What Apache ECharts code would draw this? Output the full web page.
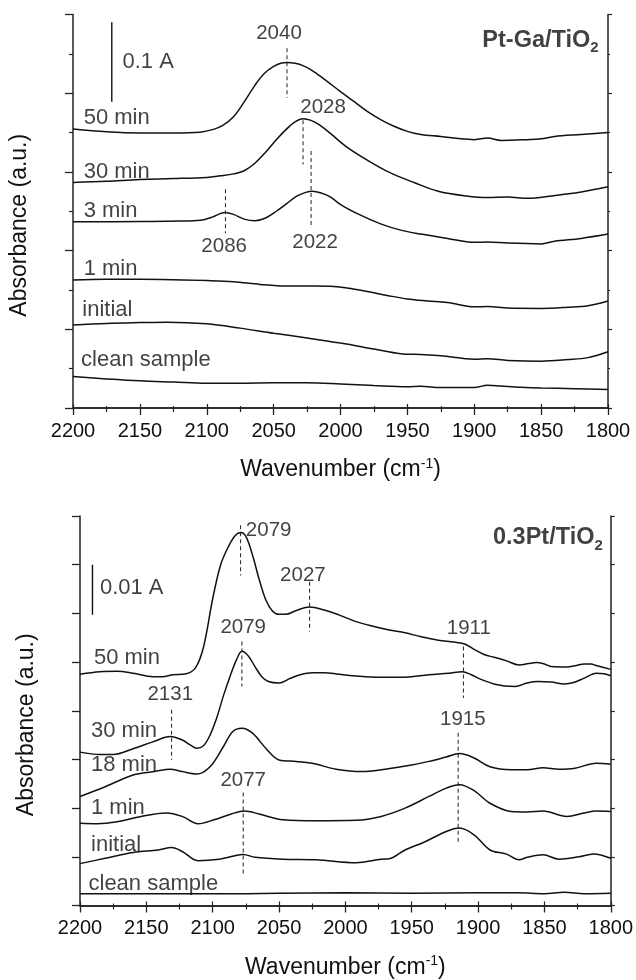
<!DOCTYPE html>
<html><head><meta charset="utf-8">
<script src="https://cdn.jsdelivr.net/npm/echarts@6/dist/echarts.min.js"></script>
<style>html,body{margin:0;padding:0;background:#fff}#c{width:636px;height:980px}</style>
</head><body><div id="c"></div>
<script>
// ---------- Top panel: Pt-Ga/TiO2 (y in offset units, 2 units = 0.1 A) ----------
const xTicks = [2200, 2150, 2100, 2050, 2000, 1950, 1900, 1850, 1800];

const top50_wn = [2200,2175,2150,2125,2105,2095,2088,2080,2072,2064,2057,2050,2044,2040,2034,2028,2020,2010,2000,1990,1980,1970,1960,1950,1940,1925,1910,1900,1890,1880,1860,1850,1840,1820,1800];
const top50_y  = [7.09,7.02,6.99,6.99,7.01,7.08,7.18,7.40,7.78,8.20,8.50,8.68,8.77,8.78,8.76,8.70,8.55,8.30,8.04,7.79,7.54,7.33,7.16,7.03,6.95,6.90,6.84,6.82,6.86,6.80,6.82,6.84,6.90,6.95,7.00];

const top30_wn = [2200,2175,2150,2125,2100,2090,2080,2072,2064,2056,2048,2040,2034,2028,2022,2016,2008,1996,1981,1963,1945,1927,1906,1890,1875,1860,1842,1820,1800];
const top30_y  = [5.73,5.76,5.81,5.83,5.86,5.90,5.95,6.03,6.22,6.50,6.82,7.10,7.27,7.35,7.31,7.20,6.99,6.65,6.32,5.98,5.73,5.51,5.39,5.35,5.36,5.33,5.39,5.49,5.62];

const top3_wn = [2200,2150,2120,2105,2096,2090,2086,2080,2072,2064,2056,2048,2040,2033,2026,2021,2015,2008,1999,1985,1970,1955,1940,1920,1900,1890,1875,1850,1840,1820,1800];
const top3_y  = [4.73,4.74,4.75,4.77,4.85,4.94,4.97,4.92,4.80,4.76,4.83,5.00,5.20,5.38,5.48,5.51,5.47,5.37,5.15,4.90,4.68,4.52,4.42,4.31,4.21,4.22,4.19,4.17,4.24,4.31,4.42];

const top1_wn = [2200,2175,2150,2125,2100,2080,2060,2040,2020,2005,1995,1980,1965,1950,1935,1920,1900,1890,1875,1850,1830,1815,1800];
const top1_y  = [3.25,3.27,3.27,3.26,3.24,3.21,3.14,3.10,3.10,3.09,3.05,2.96,2.86,2.77,2.72,2.68,2.57,2.58,2.54,2.53,2.56,2.60,2.72];

const topInit_wn = [2200,2175,2150,2130,2100,2075,2050,2025,2000,1975,1955,1940,1925,1900,1890,1875,1850,1830,1815,1800];
const topInit_y  = [2.11,2.15,2.17,2.18,2.14,2.03,1.90,1.78,1.65,1.50,1.38,1.36,1.33,1.24,1.25,1.21,1.19,1.23,1.28,1.43];

const topClean_wn = [2200,2175,2150,2125,2100,2075,2050,2025,2000,1975,1950,1940,1925,1900,1890,1880,1865,1850,1825,1800];
const topClean_y  = [0.80,0.74,0.69,0.66,0.63,0.63,0.64,0.64,0.61,0.57,0.54,0.55,0.52,0.52,0.58,0.56,0.53,0.51,0.49,0.47];

// peak marker dashes: [wavenumber, y start, y end]
const topPeaks = [[2040, 9.14, 7.88], [2028, 7.31, 6.19], [2022, 6.53, 4.60], [2086, 5.56, 4.44]];
// peak labels: [wavenumber, y, text]
const topPeakLabels = [[2046, 9.53, '2040'], [2013, 7.65, '2028'], [2087, 4.10, '2086'], [2019, 4.20, '2022']];
// curve labels (left-aligned): [wavenumber, y, text]
const topCurveLabels = [
  [2163, 8.79, '0.1 A'],
  [2192, 7.37, '50 min'], [2192, 6.00, '30 min'], [2192, 5.01, '3 min'],
  [2192, 3.53, '1 min'], [2193, 2.49, 'initial'], [2194, 1.22, 'clean sample']
];
const topTitle = [1807, 9.35, 'Pt-Ga/TiO', '2'];
const topScaleBar = [2171, 9.80, 7.78];

// ---------- Bottom panel: 0.3Pt/TiO2 (y in offset units, 1 unit = 0.01 A) ----------
const bot50_wn = [2200,2185,2172,2160,2145,2138,2130,2120,2113,2107,2100,2094,2088,2083,2079,2075,2070,2065,2060,2055,2050,2045,2037,2027,2016,2005,1992,1980,1967,1955,1943,1930,1918,1910,1903,1895,1888,1879,1869,1862,1856,1850,1845,1833,1826,1820,1815,1811,1800];
const bot50_y  = [4.75,4.80,4.81,4.77,4.70,4.70,4.74,4.76,4.88,5.30,6.30,7.00,7.38,7.60,7.66,7.58,7.20,6.70,6.28,6.05,5.98,5.98,6.06,6.13,6.07,5.97,5.83,5.74,5.66,5.60,5.52,5.45,5.41,5.37,5.26,5.15,5.10,5.03,4.94,4.97,4.99,4.96,4.91,4.90,4.93,4.96,4.96,4.93,4.85];

const bot30_wn = [2200,2185,2175,2160,2145,2132,2123,2117,2112,2107,2102,2097,2092,2087,2082,2078,2073,2068,2063,2058,2050,2042,2034,2025,2016,2005,1990,1975,1955,1937,1922,1912,1905,1900,1888,1880,1872,1863,1855,1845,1835,1828,1820,1811,1805,1800];
const bot30_y  = [3.15,3.10,3.10,3.22,3.36,3.47,3.40,3.30,3.23,3.28,3.50,3.85,4.30,4.70,5.05,5.22,5.12,4.90,4.70,4.60,4.57,4.66,4.74,4.78,4.78,4.75,4.71,4.69,4.69,4.74,4.77,4.80,4.74,4.67,4.55,4.51,4.50,4.57,4.60,4.59,4.55,4.58,4.67,4.77,4.76,4.72];

const bot18_wn = [2200,2181,2160,2144,2132,2123,2112,2102,2092,2085,2078,2070,2059,2050,2037,2025,2007,1988,1970,1949,1937,1924,1914,1903,1891,1875,1863,1851,1839,1827,1811,1800];
const bot18_y  = [2.24,2.44,2.68,2.75,2.80,2.75,2.70,2.85,3.26,3.57,3.64,3.54,3.20,2.99,2.96,2.92,2.80,2.75,2.80,2.89,2.96,3.05,3.12,3.03,2.85,2.79,2.79,2.83,2.80,2.82,2.92,2.90];

const bot1_wn = [2200,2187,2172,2154,2135,2123,2111,2099,2086,2076,2065,2047,2022,1992,1973,1955,1937,1924,1914,1903,1891,1875,1863,1851,1833,1820,1811,1800];
const bot1_y  = [1.69,1.68,1.72,1.83,1.90,1.83,1.68,1.76,1.88,1.94,1.88,1.76,1.74,1.75,1.83,2.00,2.24,2.41,2.48,2.36,2.10,1.93,1.92,1.94,1.83,1.90,1.94,1.93];

const botInit_wn = [2200,2181,2160,2141,2131,2123,2111,2095,2085,2077,2068,2047,2022,1992,1973,1967,1955,1940,1924,1914,1903,1891,1879,1869,1863,1851,1839,1824,1813,1800];
const botInit_y  = [0.86,0.97,1.09,1.14,1.19,1.11,0.92,0.95,1.01,1.05,0.99,0.95,0.94,0.88,0.95,0.96,1.14,1.31,1.52,1.59,1.45,1.14,1.06,0.94,0.99,1.04,0.95,1.00,1.06,0.97];

const botClean_wn = [2200,2150,2100,2050,2000,1950,1900,1870,1850,1835,1820,1800];
const botClean_y  = [0.24,0.24,0.24,0.25,0.26,0.25,0.26,0.26,0.24,0.27,0.24,0.25];

const botPeaks = [[2079, 7.81, 6.78], [2027, 6.65, 5.63], [2078, 5.42, 4.50], [1911, 5.32, 4.26], [2131, 4.02, 2.99], [1915, 3.55, 1.29], [2077, 2.32, 0.60]];
const botPeakLabelsLeft = [[2075, 7.71, '2079']];
const botPeakLabels = [
  [2032, 6.79, '2027'], [2077, 5.72, '2079'], [1907, 5.70, '1911'],
  [2132, 4.33, '2131'], [1911.5, 3.83, '1915'], [2077, 2.58, '2077']
];
const botCurveLabels = [
  [2185, 6.52, '0.01 A'],
  [2189.5, 5.09, '50 min'], [2191.7, 3.59, '30 min'], [2191.7, 2.89, '18 min'],
  [2191.7, 2.00, '1 min'], [2191.7, 1.25, 'initial'], [2193.6, 0.45, 'clean sample']
];
const botTitle = [1806, 7.55, '0.3Pt/TiO', '2'];
const botScaleBar = [2190.6, 7.00, 5.97];

// ---------- build ----------
const FONT = '"Liberation Sans", Arial, sans-serif';
const INK = '#111111';
const zip = (a, b) => a.map((v, i) => [v, b[i]]);

function curve(wn, ys, idx) {
  return { type: 'line', xAxisIndex: idx * 2, yAxisIndex: idx * 2, data: zip(wn, ys),
    smooth: 0.35, symbol: 'none', silent: true, z: 3,
    lineStyle: { color: INK, width: 1.5 } };
}
function vline(x, y1, y2, idx, dashed) {
  return { type: 'line', xAxisIndex: idx * 2, yAxisIndex: idx * 2, data: [[x, y1], [x, y2]],
    symbol: 'none', silent: true, z: 2,
    lineStyle: { color: dashed ? '#333' : INK, width: dashed ? 1.1 : 1.4, type: dashed ? [4, 3] : 'solid' } };
}
function texts(list, idx, align, size) {
  return { type: 'scatter', xAxisIndex: idx * 2, yAxisIndex: idx * 2, symbolSize: 0.1, silent: true, z: 5,
    itemStyle: { color: 'rgba(0,0,0,0)' },
    data: list.map(t => ({ value: [t[0], t[1]],
      label: { show: true, position: 'inside', formatter: t[2], align, verticalAlign: 'middle',
        fontSize: size, color: INK, fontFamily: FONT, textBorderWidth: 0 } })) };
}
function title(t, idx) {
  return { type: 'scatter', xAxisIndex: idx * 2, yAxisIndex: idx * 2, symbolSize: 0.1, silent: true, z: 5,
    itemStyle: { color: 'rgba(0,0,0,0)' },
    data: [{ value: [t[0], t[1]], label: { show: true, position: 'inside', align: 'right', verticalAlign: 'middle',
      formatter: '{b|' + t[2] + '}{s|' + t[3] + '}',
      rich: { b: { fontSize: 23.5, fontWeight: 'bold', color: INK, fontFamily: FONT, lineHeight: 30, textBorderWidth: 0 },
              s: { fontSize: 15, fontWeight: 'bold', color: INK, fontFamily: FONT, verticalAlign: 'bottom', lineHeight: 16, textBorderWidth: 0 } } } }] };
}

function xAxes(gridIndex) {
  const common = { type: 'value', gridIndex, min: 1800, max: 2200, interval: 50, inverse: true,
    splitLine: { show: false },
    axisLine: { show: true, lineStyle: { color: '#222', width: 1.5 } } };
  return [
    Object.assign({}, common, { position: 'bottom',
      axisTick: { show: true, length: 7, lineStyle: { color: '#222', width: 1.3 } },
      minorTick: { show: true, splitNumber: 2, length: 4, lineStyle: { color: '#222', width: 1.2 } },
      axisLabel: { fontSize: 20, color: INK, fontFamily: FONT, margin: 13, formatter: v => String(v) },
      name: '{a|Wavenumber (cm}{s|-1}{a|)}', nameLocation: 'middle', nameGap: 49,
      nameTextStyle: { rich: { a: { fontSize: 23, color: INK, fontFamily: FONT, lineHeight: 26 },
                               s: { fontSize: 14, color: INK, fontFamily: FONT, verticalAlign: 'top', lineHeight: 14 } } } }),
    Object.assign({}, common, { position: 'top',
      axisTick: { show: true, length: 4, lineStyle: { color: '#222', width: 1.2 } },
      minorTick: { show: true, splitNumber: 2, length: 2, lineStyle: { color: '#222', width: 1 } },
      axisLabel: { show: false } })
  ];
}
function yAxes(gridIndex, max, interval, minor) {
  const common = { type: 'value', gridIndex, min: 0, max, interval,
    splitLine: { show: false }, axisLabel: { show: false },
    axisLine: { show: true, lineStyle: { color: '#222', width: 1.5 } } };
  return [
    Object.assign({}, common, { position: 'left',
      axisTick: { show: true, length: 8, lineStyle: { color: '#222', width: 1.3 } },
      minorTick: { show: minor, splitNumber: 2, length: 4, lineStyle: { color: '#222', width: 1.2 } },
      name: 'Absorbance (a.u.)', nameLocation: 'middle', nameGap: 42,
      nameTextStyle: { fontSize: 23, color: INK, fontFamily: FONT, padding: [0, 28, 0, 0] } }),
    Object.assign({}, common, { position: 'right',
      axisTick: { show: true, length: 4, lineStyle: { color: '#222', width: 1.2 } },
      minorTick: { show: minor, splitNumber: 2, length: 2, lineStyle: { color: '#222', width: 1 } } })
  ];
}

const series = [];
[[top50_wn, top50_y], [top30_wn, top30_y], [top3_wn, top3_y], [top1_wn, top1_y], [topInit_wn, topInit_y], [topClean_wn, topClean_y]]
  .forEach(c => series.push(curve(c[0], c[1], 0)));
topPeaks.forEach(p => series.push(vline(p[0], p[1], p[2], 0, true)));
series.push(vline(topScaleBar[0], topScaleBar[1], topScaleBar[2], 0, false));
series.push(texts(topPeakLabels, 0, 'center', 20.5));
series.push(texts(topCurveLabels, 0, 'left', 22));
series.push(title(topTitle, 0));

[[bot50_wn, bot50_y], [bot30_wn, bot30_y], [bot18_wn, bot18_y], [bot1_wn, bot1_y], [botInit_wn, botInit_y], [botClean_wn, botClean_y]]
  .forEach(c => series.push(curve(c[0], c[1], 1)));
botPeaks.forEach(p => series.push(vline(p[0], p[1], p[2], 1, true)));
series.push(vline(botScaleBar[0], botScaleBar[1], botScaleBar[2], 1, false));
series.push(texts(botPeakLabelsLeft, 1, 'left', 20.5));
series.push(texts(botPeakLabels, 1, 'center', 20.5));
series.push(texts(botCurveLabels, 1, 'left', 22));
series.push(title(botTitle, 1));

const chart = echarts.init(document.getElementById('c'), null, { renderer: 'canvas' });
chart.setOption({
  animation: false,
  backgroundColor: '#fff',
  grid: [
    { left: 72, top: 14.5, width: 536, height: 393.5 },
    { left: 80, top: 516, width: 531, height: 389.7 }
  ],
  xAxis: [...xAxes(0), ...xAxes(1)],
  yAxis: [...yAxes(0, 10, 2, true), ...yAxes(1, 8, 1, false)],
  series
});
</script></body></html>
